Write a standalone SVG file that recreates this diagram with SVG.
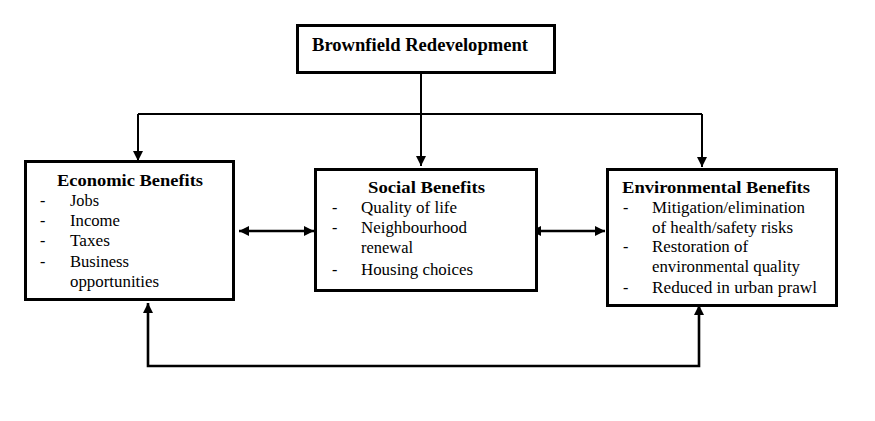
<svg xmlns="http://www.w3.org/2000/svg" width="875" height="421" viewBox="0 0 875 421">
<style>
.box{fill:#fff;stroke:#000;stroke-width:3}
.c{fill:none;stroke:#000;stroke-width:2}
.c3{fill:none;stroke:#000;stroke-width:2.6}
.t{font-family:"Liberation Serif","Times New Roman",serif;font-weight:bold;font-size:16px;fill:#000}
.s{font-family:"Liberation Serif","Times New Roman",serif;font-size:16px;fill:#000}
</style>
<defs>
<marker id="ah" viewBox="0 0 10 10" refX="10" refY="5" markerWidth="11" markerHeight="10" markerUnits="userSpaceOnUse" orient="auto-start-reverse">
<path d="M0 0 L10 5 L0 10 z" fill="#000"/>
</marker>
</defs>
<rect width="875" height="421" fill="#fff"/>
<g id="connectors">
<path class="c" d="M421 74 V114"/>
<path class="c" d="M138 114 H702"/>
<path class="c" d="M138 114 V161" marker-end="url(#ah)"/>
<path class="c" d="M421 114 V166" marker-end="url(#ah)"/>
<path class="c" d="M702 114 V167" marker-end="url(#ah)"/>
<path class="c3" d="M239 231 H314" marker-start="url(#ah)" marker-end="url(#ah)"/>
<path class="c3" d="M531 231 H605" marker-start="url(#ah)" marker-end="url(#ah)"/>
<path class="c3" d="M148 303 V366 H699 V305" marker-start="url(#ah)" marker-end="url(#ah)"/>
</g>
<g id="brownfield">
<rect class="box" x="297.5" y="25.5" width="257" height="47"/>
<text class="t" x="312" y="51" style="font-size:18px" textLength="216" lengthAdjust="spacingAndGlyphs">Brownfield Redevelopment</text>
</g>
<g id="economic">
<rect class="box" x="25.5" y="161.5" width="208" height="138"/>
<text class="t" x="57" y="186" textLength="146" lengthAdjust="spacingAndGlyphs">Economic Benefits</text>
<text class="s" x="40" y="206">-</text>
<text class="s" x="70" y="206" textLength="29" lengthAdjust="spacingAndGlyphs">Jobs</text>
<text class="s" x="40" y="226">-</text>
<text class="s" x="70" y="226" textLength="50" lengthAdjust="spacingAndGlyphs">Income</text>
<text class="s" x="40" y="246">-</text>
<text class="s" x="70" y="246" textLength="40" lengthAdjust="spacingAndGlyphs">Taxes</text>
<text class="s" x="40" y="267">-</text>
<text class="s" x="70" y="267" textLength="59" lengthAdjust="spacingAndGlyphs">Business</text>
<text class="s" x="70" y="287" textLength="89" lengthAdjust="spacingAndGlyphs">opportunities</text>
</g>
<g id="social">
<rect class="box" x="315.5" y="169.5" width="221" height="121"/>
<text class="t" x="368" y="193" textLength="117" lengthAdjust="spacingAndGlyphs">Social Benefits</text>
<text class="s" x="332" y="213">-</text>
<text class="s" x="361" y="213" textLength="96" lengthAdjust="spacingAndGlyphs">Quality of life</text>
<text class="s" x="332" y="233">-</text>
<text class="s" x="361" y="233" textLength="106" lengthAdjust="spacingAndGlyphs">Neighbourhood</text>
<text class="s" x="361" y="253" textLength="52" lengthAdjust="spacingAndGlyphs">renewal</text>
<text class="s" x="332" y="275">-</text>
<text class="s" x="361" y="275" textLength="112" lengthAdjust="spacingAndGlyphs">Housing choices</text>
</g>
<g id="environmental">
<rect class="box" x="607.5" y="169.5" width="229" height="136"/>
<text class="t" x="622" y="193" textLength="188" lengthAdjust="spacingAndGlyphs">Environmental Benefits</text>
<text class="s" x="623" y="213">-</text>
<text class="s" x="652" y="213" textLength="153" lengthAdjust="spacingAndGlyphs">Mitigation/elimination</text>
<text class="s" x="652" y="233" textLength="141" lengthAdjust="spacingAndGlyphs">of health/safety risks</text>
<text class="s" x="623" y="252">-</text>
<text class="s" x="652" y="252" textLength="96" lengthAdjust="spacingAndGlyphs">Restoration of</text>
<text class="s" x="652" y="272" textLength="148" lengthAdjust="spacingAndGlyphs">environmental quality</text>
<text class="s" x="623" y="293">-</text>
<text class="s" x="652" y="293" textLength="165" lengthAdjust="spacingAndGlyphs">Reduced in urban prawl</text>
</g>
</svg>
